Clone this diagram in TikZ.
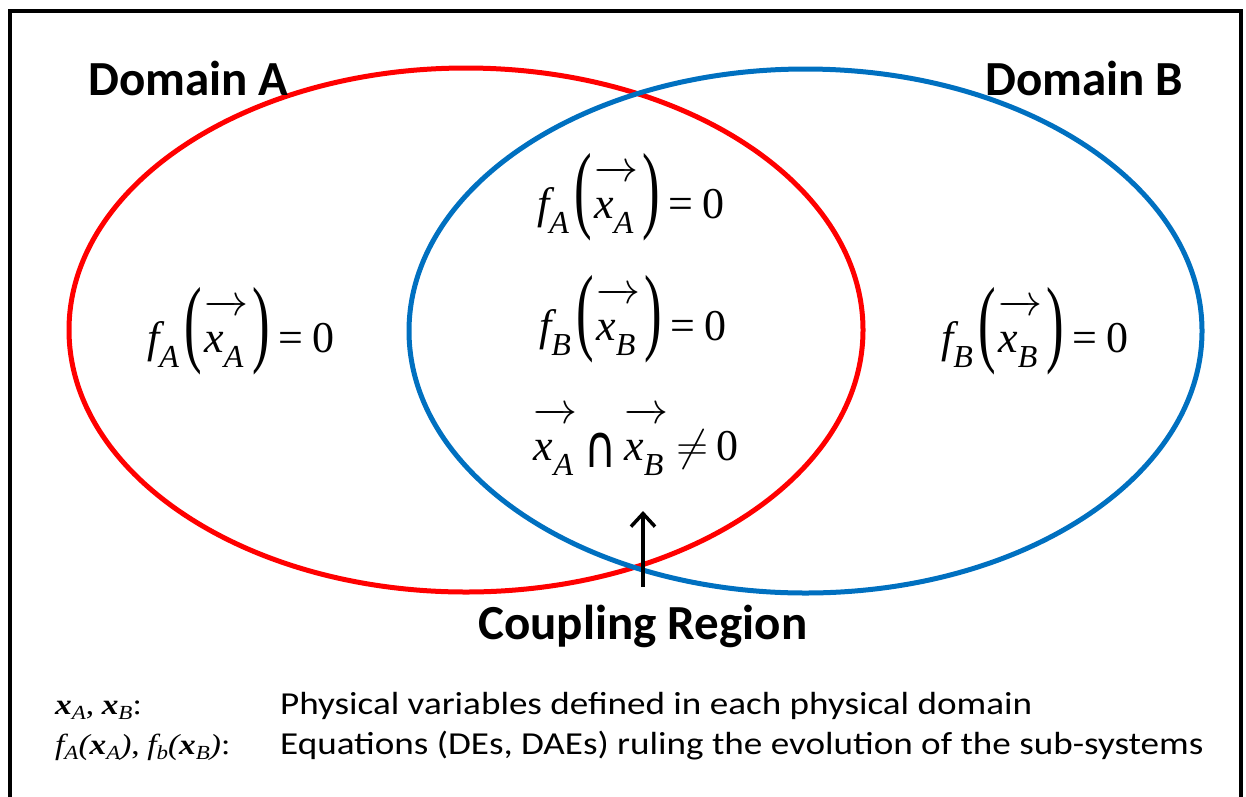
\RequirePackage{fix-cm}
\documentclass[tikz,border=0pt]{standalone}
\usepackage{graphicx}
\usepackage[no-math]{fontspec}
\setmainfont{Carlito}
\newfontfamily\tms{Liberation Serif}
\newfontfamily\djv{DejaVu Sans}
\usetikzlibrary{arrows.meta}
\definecolor{domred}{RGB}{255,0,0}
\definecolor{domblue}{RGB}{0,112,192}
% equation pieces (44pt)
\newcommand\fsub[2]{{\tms\itshape #1}\raisebox{-15pt}{\fontsize{32}{32}\selectfont\tms\itshape #2}}
\newcommand\vx[1]{\setbox0=\hbox{\fsub{x}{#1}\hspace{3pt}}\rlap{\raisebox{37pt}{\hbox to \wd0{\rightarrowfill}}}\box0}
\newcommand\lpar{\raisebox{-2pt}{\scalebox{1.2}[2.2]{\tms(}}}
\newcommand\rpar{\raisebox{-2pt}{\scalebox{1.2}[2.2]{\tms)}}}
\newcommand\eqz{\hspace{8pt}{\tms =}\hspace{10pt}{\tms 0}}
\newcommand\eqn[1]{\fsub{f}{#1}\hspace{6pt}\lpar\hspace{2pt}\vx{#1}\hspace{6pt}\rpar\eqz}
% legend pieces
\newcommand\lsub[1]{\raisebox{-5pt}{\fontsize{20}{20}\selectfont\tms\itshape #1}}
\newcommand\lbx{{\tms\bfseries\itshape x}}
\newcommand\lf{{\tms\itshape f}}
\begin{document}
\begin{tikzpicture}[x=1pt,y=-1pt,
  eq/.style={font=\fontsize{44}{50}\selectfont, inner sep=0, anchor=base},
  dom/.style={font=\fontsize{49}{54}\selectfont\bfseries, inner sep=0, anchor=base west},
  leg/.style={font=\fontsize{32}{36}\selectfont, inner sep=0, anchor=base west},
  legm/.style={font=\fontsize{29}{33}\selectfont, inner sep=0, anchor=base west},
  ell/.style={line width=5pt},
  arr/.style={line width=3.5pt, -{Straight Barb[length=13pt,width=24pt,line width=3.5pt]}}]
\useasboundingbox (0,0) rectangle (1246,796);
\draw[line width=4pt] (10,11) rectangle (1241,805);
\draw[ell, domred] (466,330) ellipse [x radius=397, y radius=262];
\draw[ell, domblue] (805.5,331) ellipse [x radius=396.5, y radius=262];
\node[dom] (domA) at (88,95) {Domain A};
\node[dom] (domB) at (985,95) {Domain B};
\node[dom] (coup) at (478,639) {Coupling Region};
\node[eq] (eqAl) at (241,352) {\eqn{A}};
\node[eq] (eqBr) at (1035,352) {\eqn{B}};
\node[eq] (eqAc) at (631,218) {\eqn{A}};
\node[eq] (eqBc) at (633,340) {\eqn{B}};
\node[eq] (eqI) at (636,460) {\vx{A}\hspace{8pt}\raisebox{-7pt}{\scalebox{1}[1.35]{\djv ∩}}\hspace{8pt}\vx{B}\hspace{10pt}$\neq$\hspace{8pt}{\tms 0}};
\coordinate (tail) at (643,587);
\coordinate (tip) at (643,511);
\draw[arr] (tail) -- (tip);
\node[legm] (l1m) at (55,714) {\scalebox{1.15}[1]{\lbx\lsub{A}{\tms ,} \lbx\lsub{B}{\tms :}}};
\node[leg] (l1t) at (280,714) {\scalebox{1.16}[1]{Physical variables defined in each physical domain}};
\node[legm] (l2m) at (55,754) {\scalebox{1.15}[1]{\lf\lsub{A}{\tms\itshape (}\lbx\lsub{A}{\tms\itshape )}{\tms ,} \lf\lsub{b}{\tms\itshape (}\lbx\lsub{B}{\tms\itshape )}{\tms :}}};
\node[leg] (l2t) at (280,754) {\scalebox{1.16}[1]{Equations (DEs, DAEs) ruling the evolution of the sub-systems}};
\end{tikzpicture}
\end{document}
